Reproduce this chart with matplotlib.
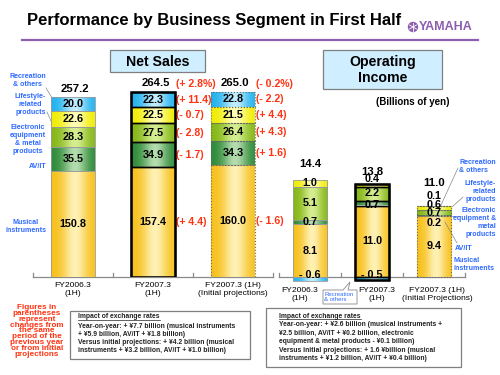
import numpy as np
import matplotlib
matplotlib.use("Agg")
import matplotlib.pyplot as plt
from matplotlib.patches import Rectangle, Circle, Polygon
from matplotlib.lines import Line2D

# ---------------- data ----------------
segments = ["Musical instruments", "AV/IT", "Electronic equipment & metal products",
            "Lifestyle-related products", "Recreation & others"]
sales_categories = ["FY2006.3\n(1H)", "FY2007.3\n(1H)", "FY2007.3 (1H)\n(Initial projections)"]
op_categories = ["FY2006.3\n(1H)", "FY2007.3\n(1H)", "FY2007.3 (1H)\n(Initial Projections)"]

sales_musical = [150.8, 157.4, 160.0]
sales_avit = [35.5, 34.9, 34.3]
sales_electronic = [28.3, 27.5, 26.4]
sales_lifestyle = [22.6, 22.5, 21.5]
sales_recreation = [20.0, 22.3, 22.8]
sales_total = [257.2, 264.5, 265.0]

change_2007 = ["(+ 4.4)", "(- 1.7)", "(- 2.8)", "(- 0.7)", "(+ 11.4)"]
change_2007_total = "(+ 2.8%)"
change_proj = ["(- 1.6)", "(+ 1.6)", "(+ 4.3)", "(+ 4.4)", "(- 2.2)"]
change_proj_total = "(- 0.2%)"

op_musical = [8.1, 11.0, 9.4]
op_avit = [0.7, 0.7, 0.2]
op_electronic = [5.1, 2.2, 0.7]
op_lifestyle = [1.0, 0.4, 0.6]
op_recreation = [-0.6, -0.5, 0.1]
op_total = [14.4, 13.8, 11.0]

# ---------------- style ----------------
W, H = 500, 375
fig = plt.figure(figsize=(5, 3.75), dpi=100)
fig.patch.set_facecolor("white")
plt.rcParams['font.family'] = ['Liberation Sans', 'DejaVu Sans']
T = fig.dpi_scale_trans
RED = "#FF3311"
BLUE = "#2F6BFF"
PURPLE = "#8C5EB0"

def P(x, y):
    return (x / 100.0, (H - y) / 100.0)

def ftext(x, y, s, **kw):
    return fig.text(*P(x, y), s, transform=T, **kw)

def fline(xs, ys, **kw):
    fig.add_artist(Line2D([x / 100.0 for x in xs], [(H - y) / 100.0 for y in ys], transform=T, **kw))

seg_colors = [("#F7C01A", "#FFF1B4"),   # musical
              ("#2E8A38", "#B4DCAE"),   # AV/IT
              ("#84B616", "#D6EE92"),   # electronic
              ("#F0EC00", "#FFFFB8"),   # lifestyle
              ("#20B2EE", "#C2EDFF")]   # recreation

def grad_img(edge, center, n=64):
    t = np.linspace(0, 1, n)
    m = np.exp(-((t - 0.55) / 0.28) ** 2)
    e = np.array(matplotlib.colors.to_rgb(edge))
    c = np.array(matplotlib.colors.to_rgb(center))
    rgb = e[None, :] * (1 - m[:, None]) + c[None, :] * m[:, None]
    return rgb[None, :, :]

bar_styles = [dict(edgecolor="#9A9A9A", linewidth=0.6, linestyle="-"),
              dict(edgecolor="black", linewidth=1.0, linestyle="-"),
              dict(edgecolor="#666666", linewidth=0.8, linestyle=":")]

def draw_stack(ax, values_by_seg, width):
    tops = []
    bottoms = []
    rects = {}
    n = len(values_by_seg[0])
    for i in range(n):
        pos = 0.0
        neg = 0.0
        for s, vals in enumerate(values_by_seg):
            v = vals[i]
            if v >= 0:
                b = pos
                pos += v
            else:
                b = neg + v
                neg += v
                v = -v
            bar = ax.bar(i, v, width, bottom=b, facecolor="none", zorder=3, **bar_styles[i])[0]
            im = ax.imshow(grad_img(*seg_colors[s]), extent=[i - width / 2, i + width / 2, b, b + v],
                           aspect="auto", zorder=2, interpolation="bilinear")
            im.set_clip_path(bar)
            rects[(i, s)] = (b, v)
        tops.append(pos)
        bottoms.append(neg)
        if i == 1:
            ax.bar(i, pos - neg, width, bottom=neg, fill=False, edgecolor="black", linewidth=1.8, zorder=4)
    return rects, tops, bottoms

def base_and_ticks(ax, tick_len):
    ax.plot([-0.5, 2.5], [0, 0], color="#8A8A8A", lw=0.9, zorder=1, clip_on=False)
    for xb in [-0.5, 0.5, 1.5, 2.5]:
        ax.plot([xb, xb], [0, tick_len], color="#8A8A8A", lw=0.9, zorder=1, clip_on=False)

# ---------------- net sales axes ----------------
ax1 = fig.add_axes([33 / W, (H - 277) / H, 240 / W, 196 / H])
sales_vals = [sales_musical, sales_avit, sales_electronic, sales_lifestyle, sales_recreation]
w1 = 0.54
rects1, tops1, _ = draw_stack(ax1, sales_vals, w1)
for (i, s), (b, v) in rects1.items():
    ax1.text(i, b + v / 2, f"{sales_vals[s][i]:.1f}", ha="center", va="center",
             fontsize=7.8, fontweight="bold", zorder=5)
for i in range(3):
    ax1.text(i + 0.03, sales_total[i] + 12, f"{sales_total[i]:.1f}", ha="center", va="center",
             fontsize=8.2, fontweight="bold", zorder=5)
for i, (chg, tot) in zip([1, 2], [(change_2007, change_2007_total), (change_proj, change_proj_total)]):
    for s in range(5):
        b, v = rects1[(i, s)]
        ax1.text(i + 0.29, b + v / 2, chg[s], ha="left", va="center", color=RED,
                 fontsize=7.6, fontweight="bold")
    ax1.text(i + 0.29, sales_total[i] + 11, tot, ha="left", va="center", color=RED,
             fontsize=7.6, fontweight="bold")
base_and_ticks(ax1, 5.5)
ax1.set_xlim(-0.5, 2.5)
ax1.set_ylim(0, 280)
ax1.axis("off")
for i, lab in enumerate(sales_categories):
    ax1.text(i, -18, lab, ha="center", va="center", fontsize=6.1, linespacing=1.2)

# ---------------- operating income axes ----------------
ax2 = fig.add_axes([279 / W, (H - 283.5) / H, 186 / W, 110.5 / H])
op_vals = [op_musical, op_avit, op_electronic, op_lifestyle, op_recreation]
w2 = 0.55
rects2, tops2, _ = draw_stack(ax2, op_vals, w2)
op_label_y = {  # layout positions of value labels (data units)
    (0, 0): 4.05, (0, 1): 8.45, (0, 2): 11.35, (0, 3): 14.4, (0, 4): 0.3,
    (1, 0): 5.5, (1, 1): 11.0, (1, 2): 12.9, (1, 3): 15.1, (1, 4): 0.3,
    (2, 0): 4.8, (2, 1): 8.3, (2, 2): 9.85, (2, 3): 11.1, (2, 4): 12.5,
}
for (i, s), y in op_label_y.items():
    v = op_vals[s][i]
    txt = f"- {abs(v):.1f}" if v < 0 else f"{v:.1f}"
    ax2.text(i, y, txt, ha="center", va="center", fontsize=7.8, fontweight="bold", zorder=5)
op_total_y = [17.4, 16.1, 14.5]
for i in range(3):
    ax2.text(i, op_total_y[i], f"{op_total[i]:.1f}", ha="center", va="center",
             fontsize=8.2, fontweight="bold", zorder=5)
base_and_ticks(ax2, 0.6)
ax2.set_xlim(-0.5, 2.5)
ax2.set_ylim(-1, 16)
ax2.axis("off")
op_lab_x = [300, 377, 437]
for x, lab in zip(op_lab_x, op_categories):
    ftext(x, 295, lab, ha="center", va="center", fontsize=6.1, linespacing=1.2)

# ---------------- title & logo ----------------
ftext(27, 20, "Performance by Business Segment in First Half", ha="left", va="center",
      fontsize=12, fontweight="bold")
fline([22, 478], [39.5, 39.5], color=PURPLE, lw=1.6)
fig.add_artist(Circle(P(413, 27), 0.052, transform=T, facecolor=PURPLE, edgecolor="none"))
for ang in np.arange(0, 360, 60):
    a = np.deg2rad(ang + 90)
    fline([413, 413 + 4 * np.cos(a)], [27, 27 - 4 * np.sin(a)], color="white", lw=0.6)
ftext(419, 27, "YAMAHA", ha="left", va="center", fontsize=9, fontweight="bold", color=PURPLE)

# ---------------- header boxes ----------------
for (x0, y0, x1, y1, txt) in [(110, 50, 205, 72, "Net Sales"), (323, 50, 442, 89, "Operating\nIncome")]:
    fig.add_artist(Rectangle(P(x0, y1), (x1 - x0) / 100, (y1 - y0) / 100, transform=T,
                             facecolor="#CFEEFF", edgecolor="#7F7F7F", lw=0.9))
    ftext((x0 + x1) / 2, (y0 + y1) / 2 + 0.5, txt, ha="center", va="center", fontsize=10.2,
          fontweight="bold", linespacing=1.15)
ftext(413, 102, "(Billions of yen)", ha="center", va="center", fontsize=7, fontweight="bold")

# ---------------- segment labels (net sales, left) ----------------
left_labels = [("Recreation\n& others", 80), ("Lifestyle-\nrelated\nproducts", 104.5),
               ("Electronic\nequipment\n& metal\nproducts", 139.5), ("AV/IT", 167),
               ("Musical\ninstruments", 227)]
for txt, y in left_labels:
    ftext(46, y, txt, ha="right", va="center", multialignment="center", fontsize=5.1,
          fontweight="bold", color=BLUE, linespacing=1.2)
fline([46, 51.5], [88, 97], color="#888888", lw=0.5)
fline([47, 51], [112, 121], color="#888888", lw=0.5)

# ---------------- segment labels (operating, right) ----------------
ftext(459, 167, "Recreation\n& others", ha="left", va="center", fontsize=5.1,
      fontweight="bold", color=BLUE, linespacing=1.2)
ftext(496, 191.5, "Lifestyle-\nrelated\nproducts", ha="right", va="center", multialignment="right",
      fontsize=5.1, fontweight="bold", color=BLUE, linespacing=1.2)
ftext(496, 223, "Electronic\nequipment &\nmetal\nproducts", ha="right", va="center", multialignment="right",
      fontsize=5.1, fontweight="bold", color=BLUE, linespacing=1.2)
ftext(455, 249, "AV/IT", ha="left", va="center", fontsize=5.1, fontweight="bold", color=BLUE)
ftext(453, 265, "Musical\ninstruments", ha="left", va="center", fontsize=5.1,
      fontweight="bold", color=BLUE, linespacing=1.2)
fline([458, 441], [168, 205], color="#888888", lw=0.5)
fline([463, 452], [197, 207], color="#888888", lw=0.5)
fline([452, 460], [216, 216], color="#888888", lw=0.5)
fline([445, 457], [222, 243], color="#888888", lw=0.5)

# callout "Recreation & others"
fig.add_artist(Polygon([P(323, 290), P(343, 290), P(350, 282), P(348, 290), P(357, 290),
                        P(357, 304), P(323, 304)], closed=True, transform=T,
                       facecolor="white", edgecolor="#8A8A8A", lw=0.6))
ftext(324.5, 297, "Recreation\n& others", ha="left", va="center", fontsize=4.3, color=BLUE,
      linespacing=1.15)

# ---------------- note ----------------
ftext(37, 331, "Figures in\nparentheses\nrepresent\nchanges from\nthe same\nperiod of the\nprevious year\nor from initial\nprojections",
      ha="center", va="center", multialignment="center", fontsize=5.9, fontweight="bold",
      color=RED, linespacing=0.78)

# ---------------- exchange-rate boxes ----------------
fig.add_artist(Rectangle(P(70, 359), 1.80, 0.48, transform=T, facecolor="white",
                         edgecolor="#7F7F7F", lw=0.9))
fig.add_artist(Rectangle(P(266, 367), 1.95, 0.59, transform=T, facecolor="white",
                         edgecolor="#7F7F7F", lw=0.9))
left_box = [("Impact of exchange rates", 317),
            ("Year-on-year: + ¥7.7 billion (musical instruments", 326),
            ("+ ¥5.9 billion, AV/IT + ¥1.8 billion)", 334),
            ("Versus initial projections: + ¥4.2 billion (musical", 343),
            ("instruments + ¥3.2 billion, AV/IT + ¥1.0 billion)", 351)]
right_box = [("Impact of exchange rates", 316),
             ("Year-on-year: + ¥2.6 billion (musical instruments +", 325),
             ("¥2.5 billion, AV/IT + ¥0.2 billion, electronic", 333),
             ("equipment & metal products - ¥0.1 billion)", 341.5),
             ("Versus initial projections: + 1.6 ¥billion (musical", 351),
             ("instruments + ¥1.2 billion, AV/IT + ¥0.4 billion)", 359)]
heads = []
for x, lines in [(78, left_box), (279, right_box)]:
    for k, (s, y) in enumerate(lines):
        t = ftext(x, y, s, ha="left", va="center", fontsize=4.9, fontweight="bold", color="#222222")
        if k == 0:
            heads.append((t, x, y))
fig.canvas.draw()
r = fig.canvas.get_renderer()
for t, x, y in heads:
    bb = t.get_window_extent(r)
    fline([x, x + bb.width], [y + 3.4, y + 3.4], color="#222222", lw=0.5)

fig.savefig("out.png", dpi=100)
